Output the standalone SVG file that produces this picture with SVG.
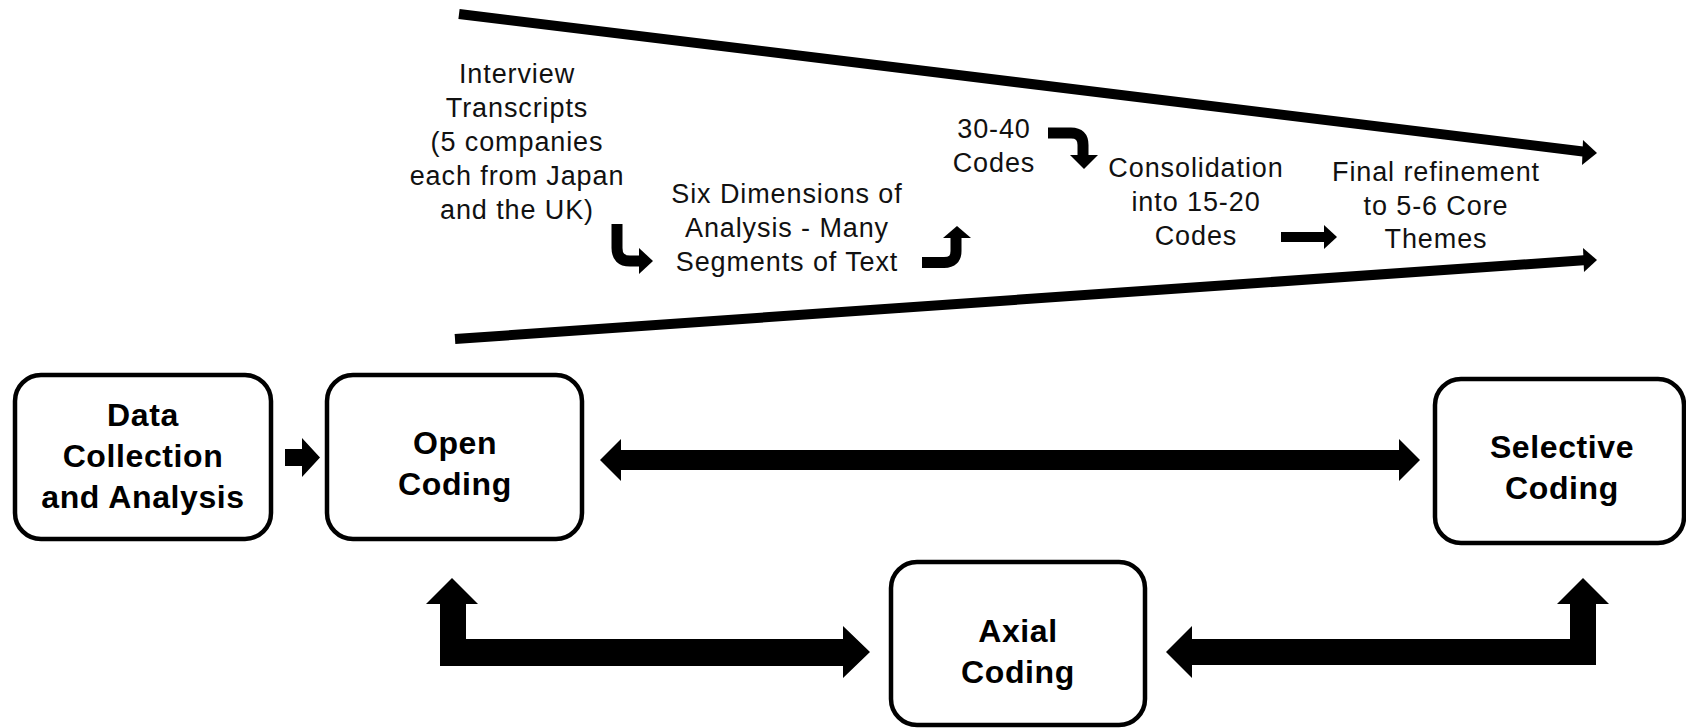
<svg xmlns="http://www.w3.org/2000/svg" width="1686" height="728" viewBox="0 0 1686 728">
<style>
.box{fill:#fff;stroke:#000;stroke-width:4.5}
.b{font-family:"Liberation Sans",Arial,sans-serif;font-weight:bold;font-size:32px;letter-spacing:0.6px;text-anchor:middle;fill:#000}
.r{font-family:"Liberation Sans",Arial,sans-serif;font-size:27px;letter-spacing:0.9px;text-anchor:middle;fill:#111}
.ln{fill:none;stroke:#000;stroke-width:10}
.sa{fill:none;stroke:#000;stroke-width:11}
.ah{fill:#000}
</style>
<rect width="1686" height="728" fill="#fff"/>
<g id="connectors">
<line class="ln" x1="459" y1="14" x2="1587" y2="152"/>
<polygon class="ah" points="1583,140 1597,153 1582,165"/>
<line class="ln" x1="455" y1="339" x2="1587" y2="260"/>
<polygon class="ah" points="1583,248 1597,260 1584,272"/>
<path class="sa" d="M617,224 L617,248 Q617,261 630,261 L641,261"/>
<polygon class="ah" points="639,248 653,261 639,274"/>
<path class="sa" d="M922,262.5 L944,262.5 Q956,262.5 956,251 L956,237"/>
<polygon class="ah" points="943,238 957,226 971,238"/>
<path class="sa" d="M1048,133 L1071,133 Q1083,133 1083,145 L1083,157"/>
<polygon class="ah" points="1070,155 1084,169 1098,155"/>
<line class="ln" x1="1281" y1="237" x2="1326" y2="237"/>
<polygon class="ah" points="1324,225 1337,237 1324,249"/>
<path class="ah" d="M285,449 L302,449 L302,438 L320,457.5 L302,477 L302,466 L285,466 Z"/>
<path class="ah" d="M600,460 L621,439 L621,450 L1399,450 L1399,439 L1420,460 L1399,481 L1399,470 L621,470 L621,481 Z"/>
<path class="ah" d="M452,578 L478,604 L466,604 L466,639 L843,639 L843,626 L870,652 L843,678 L843,666 L440,666 L440,604 L426,604 Z"/>
<path class="ah" d="M1583,578 L1609,604 L1596,604 L1596,665 L1192,665 L1192,678 L1166,652 L1192,626 L1192,639 L1570,639 L1570,604 L1557,604 Z"/>
</g>
<g id="funnel-text">
<text class="r" x="517" y="83">Interview</text>
<text class="r" x="517" y="117">Transcripts</text>
<text class="r" x="517" y="151">(5 companies</text>
<text class="r" x="517" y="185">each from Japan</text>
<text class="r" x="517" y="219">and the UK)</text>
<text class="r" x="787" y="203">Six Dimensions of</text>
<text class="r" x="787" y="237">Analysis - Many</text>
<text class="r" x="787" y="271">Segments of Text</text>
<text class="r" x="994" y="138">30-40</text>
<text class="r" x="994" y="172">Codes</text>
<text class="r" x="1196" y="177">Consolidation</text>
<text class="r" x="1196" y="211">into 15-20</text>
<text class="r" x="1196" y="245">Codes</text>
<text class="r" x="1436" y="181">Final refinement</text>
<text class="r" x="1436" y="215">to 5-6 Core</text>
<text class="r" x="1436" y="248">Themes</text>
</g>
<g id="data-collection">
<rect class="box" x="15" y="375" width="256" height="164" rx="26"/>
<text class="b" x="143" y="426">Data</text>
<text class="b" x="143" y="467">Collection</text>
<text class="b" x="143" y="508">and Analysis</text>
</g>
<g id="open-coding">
<rect class="box" x="327" y="375" width="255" height="164" rx="26"/>
<text class="b" x="455" y="454">Open</text>
<text class="b" x="455" y="495">Coding</text>
</g>
<g id="selective-coding">
<rect class="box" x="1435" y="379" width="249" height="164" rx="26"/>
<text class="b" x="1562" y="458">Selective</text>
<text class="b" x="1562" y="499">Coding</text>
</g>
<g id="axial-coding">
<rect class="box" x="891" y="562" width="254" height="163" rx="26"/>
<text class="b" x="1018" y="642">Axial</text>
<text class="b" x="1018" y="683">Coding</text>
</g>
</svg>
